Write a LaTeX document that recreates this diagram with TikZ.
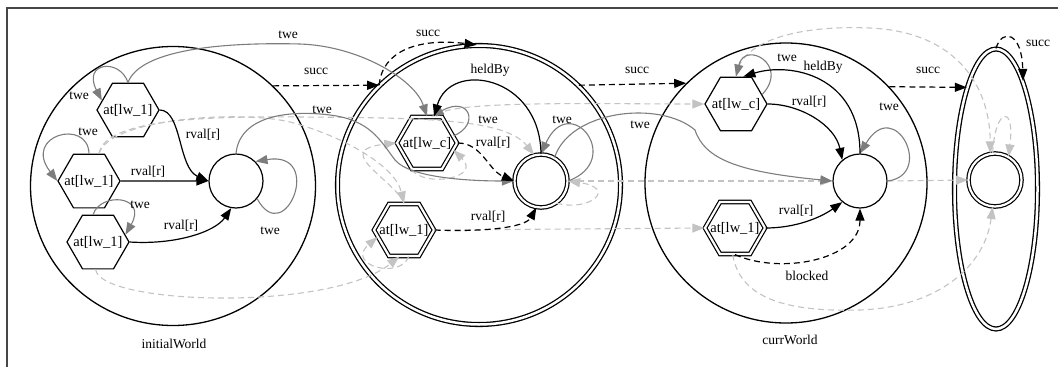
\documentclass[tikz,border=0pt]{standalone}
\usepackage{fontspec}
\setmainfont{Liberation Serif}
\usetikzlibrary{shapes.geometric,arrows.meta}
\definecolor{tgray}{RGB}{125,125,125}
\definecolor{lgray}{RGB}{195,195,195}
\definecolor{framec}{RGB}{70,70,70}
\newcommand{\hx}[1]{\makebox[0pt]{\fontsize{14.5}{16}\selectfont #1}}
\begin{document}
\begin{tikzpicture}[x=1pt,y=-1pt,
  font=\fontsize{13.5}{15}\selectfont,
  tip/.style={-{Triangle[length=12pt,width=9pt]}},
  world/.style={draw,ellipse,line width=1.3pt,inner sep=0pt},
  dworld/.style={world,double,double distance=2.5pt},
  hexa/.style={draw,regular polygon,regular polygon sides=6,minimum size=62pt,inner sep=0pt,line width=1.2pt},
  dhexa/.style={hexa,double,double distance=2.2pt,minimum size=60pt},
  state/.style={draw,circle,minimum size=54pt,inner sep=0pt,line width=1.2pt},
  dstate/.style={state,double,double distance=2.2pt,minimum size=53pt},
  rel/.style={tip,line width=1.2pt,black},
  drel/.style={rel,dash pattern=on 6pt off 4pt},
  twe/.style={tip,line width=1.1pt,tgray},
  nxt/.style={tip,line width=1.1pt,lgray,dash pattern=on 6pt off 4pt},
  lab/.style={inner sep=1pt}
]
\useasboundingbox (0,0) rectangle (1058,367);
% frame
\draw[framec,line width=1.5pt] (7,367) -- (7,8) -- (1058,8);

% clusters
\node[world,minimum width=285pt,minimum height=279pt] (W1) at (173,186) {};
\node[dworld,minimum width=283pt,minimum height=279pt] (W2) at (479,185) {};
\node[world,minimum width=282pt,minimum height=280pt] (W3) at (786,183) {};
\node[dworld,minimum width=83pt,minimum height=280pt] (W4) at (996,189) {};
\node[lab] (W1lab) at (174,344) {initialWorld};
\node[lab] (W3lab) at (790,340) {currWorld};

% nodes
\node[hexa] (H1) at (128,110) {\hx{at[lw\_1]}};
\node[hexa] (H2) at (89,181) {\hx{at[lw\_1]}};
\node[hexa] (H3) at (98,242) {\hx{at[lw\_1]}};
\node[state] (C1) at (236,181) {};
\node[dhexa] (L2c) at (427,143) {\hx{at[lw\_c]}};
\node[dhexa] (L2l) at (404,230) {\hx{at[lw\_1]}};
\node[dstate] (C2) at (541,181) {};
\node[hexa] (L3c) at (736,104) {\hx{at[lw\_c]}};
\node[dhexa] (L3l) at (735,228) {\hx{at[lw\_1]}};
\node[state] (C3) at (860,181) {};
\node[dstate] (C4) at (995,180) {};

% light dashed mapping edges
\draw[nxt] (H2.70) .. controls (105,120) and (200,116) .. (300,117) .. controls (420,118) and (505,118) .. (C2.105);
\draw[nxt] (H2.70) .. controls (110,118) and (240,110) .. (290,122) .. controls (340,135) and (395,165) .. (L2l.north);
\draw[nxt] (L2l.north) .. controls (395,180) and (330,150) .. (L2c.west);
\draw[nxt] (L2c.-120) .. controls (425,188) and (482,178) .. (L2c.-15);
\draw[nxt] (H3.-95) .. controls (100,305) and (330,312) .. (L2l.-100);
\draw[nxt] (L2l.-80) .. controls (400,280) and (345,265) .. (L2l.195);
\draw[nxt] (C2.-55) .. controls (590,212) and (618,188) .. (C2.east);
\draw[nxt] (L2c.70) .. controls (440,100) and (600,104) .. (L3c.west);
\draw[nxt] (L2l.east) -- (L3l.west);
\draw[nxt] (C2.east) -- (C3.west);
\draw[nxt] (L3c.north) .. controls (740,40) and (800,25) .. (870,28) .. controls (960,32) and (990,90) .. (C4.100);
\draw[nxt] (C4.95) .. controls (995,108) and (1015,103) .. (C4.60);
\draw[nxt] (C3.east) -- (C4.west);
\draw[nxt] (L3l.-95) .. controls (740,300) and (790,312) .. (860,310) .. controls (940,307) and (985,265) .. (C4.-95);

% twe edges (gray)
\draw[twe] (H1.north) .. controls (120,58) and (82,62) .. (H1.160);
\draw[twe] (H1.north) .. controls (140,50) and (220,42) .. (300,44) .. controls (360,46) and (415,80) .. (L2c.north);
\draw[twe] (H2.north) .. controls (88,118) and (22,135) .. (H2.west);
\draw[twe] (H3.100) .. controls (100,192) and (148,195) .. (H3.15);
\draw[twe] (C1.-40) .. controls (285,250) and (325,150) .. (C1.45);
\draw[twe] (C1.north) .. controls (240,115) and (290,110) .. (330,115) .. controls (370,120) and (380,140) .. (395,160) .. controls (410,178) and (470,181) .. (C2.west);
\draw[twe] (L2c.15) .. controls (480,125) and (470,95) .. (L2c.80);
\draw[twe] (C2.east) .. controls (625,160) and (570,90) .. (C2.north);
\draw[twe] (C2.60) .. controls (570,110) and (660,100) .. (695,130) .. controls (705,160) and (740,172) .. (C3.west);
\draw[twe] (L3c.20) .. controls (790,65) and (745,40) .. (L3c.north);
\draw[twe] (C3.east) .. controls (935,175) and (895,95) .. (C3.north);

% black relations
\draw[rel] (H1.east) .. controls (182,110) and (178,168) .. (C1.west);
\draw[rel] (H2.east) -- (C1.west);
\draw[rel] (H3.east) .. controls (175,245) and (215,232) .. (C1.-100);
\draw[rel] (C2.north) .. controls (540,75) and (450,60) .. (L2c.75);
\draw[drel] (L2c.east) .. controls (482,143) and (488,170) .. (C2.west);
\draw[drel] (L2l.east) .. controls (480,232) and (525,228) .. (C2.-100);
\draw[rel] (C3.north) .. controls (860,75) and (790,62) .. (L3c.75);
\draw[rel] (L3c.east) .. controls (800,104) and (835,125) .. (C3.130);
\draw[rel] (L3l.east) .. controls (795,228) and (820,218) .. (C3.-130);
\draw[drel] (L3l.south) .. controls (780,275) and (860,260) .. (C3.south);

% succ edges
\draw[drel] (W1.45) -- (W2.135);
\draw[drel] (W2.135) .. controls (382,50) and (420,38) .. (W2.91);
\draw[drel] (W2.45) -- (W3.135);
\draw[drel] (W3.43) -- (W4.106);
\draw[drel] (W4.90) .. controls (1002,28) and (1022,32) .. (W4.76);

% labels
\node[lab] (t1) at (288,35) {twe};
\node[lab] (s1) at (316,71) {succ};
\node[lab] (t2) at (79,96) {twe};
\node[lab] (r1) at (203,135) {rval[r]};
\node[lab] (t3) at (88,132) {twe};
\node[lab] (r2) at (148,172) {rval[r]};
\node[lab] (t4) at (140,205) {twe};
\node[lab] (r3) at (181,226) {rval[r]};
\node[lab] (t5) at (270,231) {twe};
\node[lab] (t6) at (322,110) {twe};
\node[lab] (s2) at (428,33) {succ};
\node[lab] (h1) at (490,70) {heldBy};
\node[lab] (t7) at (488,120) {twe};
\node[lab] (r4) at (493,143) {rval[r]};
\node[lab] (t8) at (562,120) {twe};
\node[lab] (r5) at (488,217) {rval[r]};
\node[lab] (s3) at (637,70) {succ};
\node[lab] (t9) at (640,125) {twe};
\node[lab] (t10) at (787,58) {twe};
\node[lab] (h2) at (823,67) {heldBy};
\node[lab] (r6) at (809,102) {rval[r]};
\node[lab] (t11) at (889,107) {twe};
\node[lab] (r7) at (796,211) {rval[r]};
\node[lab] (b1) at (807,276) {blocked};
\node[lab] (s4) at (928,70) {succ};
\node[lab] (s5) at (1038,43) {succ};
\end{tikzpicture}
\end{document}
